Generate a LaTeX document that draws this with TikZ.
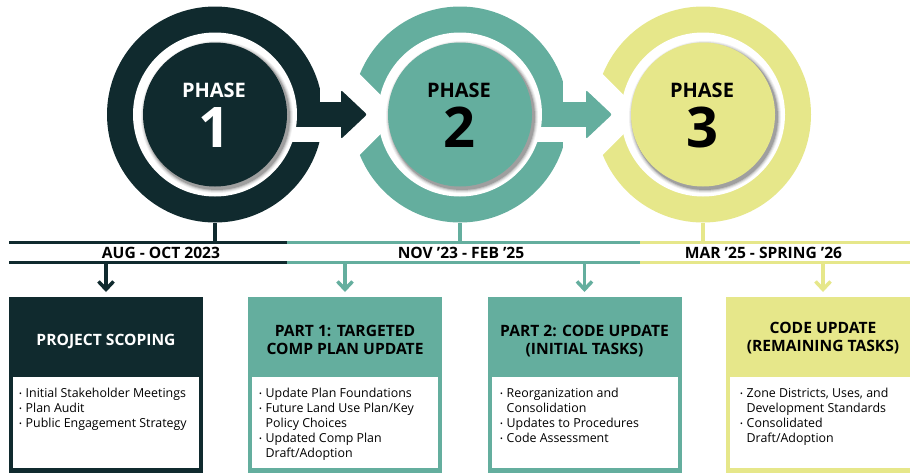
\documentclass[tikz,border=0pt]{standalone}
\usepackage{fontspec}
\setmainfont{Open Sans}
\usetikzlibrary{arrows.meta}
\definecolor{cdark}{RGB}{16,42,46}
\definecolor{cteal}{RGB}{100,174,158}
\definecolor{cyel}{RGB}{230,231,138}
\newcommand\bul{\makebox[6.5pt][l]{\raisebox{0.5pt}{\fontsize{7.5}{7.5}\selectfont •}}}
\newcommand\ind{\makebox[6.5pt][l]{}}
\tikzset{
  phaseword/.style={font=\fontsize{20}{20}\selectfont\bfseries, anchor=base, inner sep=0},
  phasenum/.style={font=\fontsize{56}{56}\selectfont\bfseries, anchor=base, inner sep=0},
  datelabel/.style={font=\fontsize{15.6}{15.6}\selectfont\bfseries, anchor=base, inner sep=0},
  boxtitle/.style={font=\fontsize{15.6}{18}\selectfont\bfseries, anchor=base, inner sep=0, align=center},
  bullets/.style={font=\fontsize{12.4}{15}\selectfont, anchor=base west, inner sep=0},
  outerbox/.style={rectangle, fill=#1, minimum width=194pt, minimum height=177pt, inner sep=0, anchor=north},
  innerbox/.style={rectangle, fill=white, minimum width=186pt, minimum height=91pt, inner sep=0, anchor=north},
  tline/.style={line width=3pt, #1},
  stem/.style={line width=4pt, #1},
  downarrow/.style={line width=3.5pt, #1, -{Straight Barb[length=8pt,width=15pt]}, shorten >=5pt}
}
\begin{document}
\begin{tikzpicture}[x=1pt,y=-1pt]
\useasboundingbox (0,0) rectangle (910,472);
\clip (0,0) rectangle (910,472);
\fill[white] (0,0) rectangle (910,472);
% rings
\foreach \cx/\col/\nl/\gr/\n/\tc in {215/cdark/0/1/1/white, 460/cteal/1/1/2/black, 703/cyel/1/0/3/black}{
  \fill[\col] (\cx,114.5) circle (108);
  \ifnum\nl=1
    \fill[white] (\cx-60,114.5) -- (\cx-140,34.5) -- (\cx-140,194.5) -- cycle;
  \fi
  \ifnum\gr=1
    \fill[white] (\cx+40,127) rectangle (\cx+115,142);
  \fi
  \fill[white] (\cx,114.5) circle (82);
  \foreach \r/\o in {76/0.06,75/0.08,74/0.12,73/0.18}{
    \fill[black,opacity=\o] (\cx+2,117) circle (\r);
  }
  \fill[\col] (\cx,114.5) circle (72);
  \node[circle, minimum size=216pt, inner sep=0] (ring\n) at (\cx,114.5) {};
  \node[phaseword, text=\tc] (ph\n) at (\cx-1,97) {PHASE};
  \node[phasenum, text=\tc] (num\n) at (\cx-1,147) {\n};
}
% arrows between phases
\foreach \cx/\col in {215/cdark, 460/cteal}{
  \fill[\col] (\cx+82,102) rectangle (\cx+128,127);
  \fill[\col, rounded corners=2pt] (\cx+126,90) -- (\cx+152,114.5) -- (\cx+126,139) -- cycle;
}
% timeline
\coordinate (t1) at (9,242); \coordinate (t2) at (287,242); \coordinate (t3) at (640,242); \coordinate (t4) at (910,242);
\coordinate (b1) at (9,262); \coordinate (b2) at (287,262); \coordinate (b3) at (640,262); \coordinate (b4) at (910,262);
\draw[tline=cdark] (t1) -- (t2); \draw[tline=cteal] (t2) -- (t3); \draw[tline=cyel] (t3) -- (t4);
\draw[tline=cdark] (b1) -- (b2); \draw[tline=cteal] (b2) -- (b3); \draw[tline=cyel] (b3) -- (b4);
\draw[stem=cdark] (ring1.south) -- (ring1.south |- t1);
\draw[stem=cteal] (ring2.south) -- (ring2.south |- t1);
\draw[stem=cyel] (ring3.south) -- (ring3.south |- t1);
\node[datelabel] (d1) at (161,258) {AUG - OCT 2023};
\node[datelabel] (d2) at (461,258) {NOV ’23 - FEB ’25};
\node[datelabel] (d3) at (763.5,258) {MAR ’25 - SPRING ’26};
% boxes
\node[outerbox=cdark] (box1) at (106,297) {};
\node[outerbox=cteal] (box2) at (345,297) {};
\node[outerbox=cteal] (box3) at (584.5,297) {};
\node[outerbox=cyel] (box4) at (823,297) {};
\node[innerbox] (in1) at (106,377) {};
\node[innerbox] (in2) at (345,377) {};
\node[innerbox] (in3) at (584.5,377) {};
\node[innerbox] (in4) at (823,377) {};
\draw[downarrow=cdark] (box1.north |- b1) -- (box1.north);
\draw[downarrow=cteal] (box2.north |- b1) -- (box2.north);
\draw[downarrow=cteal] (box3.north |- b1) -- (box3.north);
\draw[downarrow=cyel] (box4.north |- b1) -- (box4.north);
% titles
\node[boxtitle, text=white] (ti1) at (106,345) {PROJECT SCOPING};
\node[boxtitle] (ti2a) at (345,336) {PART 1: TARGETED};
\node[boxtitle] (ti2b) at (345,354) {COMP PLAN UPDATE};
\node[boxtitle] (ti3a) at (584.5,336) {PART 2: CODE UPDATE};
\node[boxtitle] (ti3b) at (584.5,354) {(INITIAL TASKS)};
\node[boxtitle] (ti4a) at (823,333) {CODE UPDATE};
\node[boxtitle] (ti4b) at (823,351) {(REMAINING TASKS)};
% bullets
\node[bullets] (l1) at (19,397) {\begin{tabular}[t]{@{}l@{}}\bul Initial Stakeholder Meetings\\ \bul Plan Audit\\ \bul Public Engagement Strategy\end{tabular}};
\node[bullets] (l2) at (259,397) {\begin{tabular}[t]{@{}l@{}}\bul Update Plan Foundations\\ \bul Future Land Use Plan/Key\\ \ind Policy Choices\\ \bul Updated Comp Plan\\ \ind Draft/Adoption\end{tabular}};
\node[bullets] (l3) at (500,397) {\begin{tabular}[t]{@{}l@{}}\bul Reorganization and\\ \ind Consolidation\\ \bul Updates to Procedures\\ \bul Code Assessment\end{tabular}};
\node[bullets] (l4) at (740,397) {\begin{tabular}[t]{@{}l@{}}\bul Zone Districts, Uses, and\\ \ind Development Standards\\ \bul Consolidated\\ \ind Draft/Adoption\end{tabular}};
\end{tikzpicture}
\end{document}
